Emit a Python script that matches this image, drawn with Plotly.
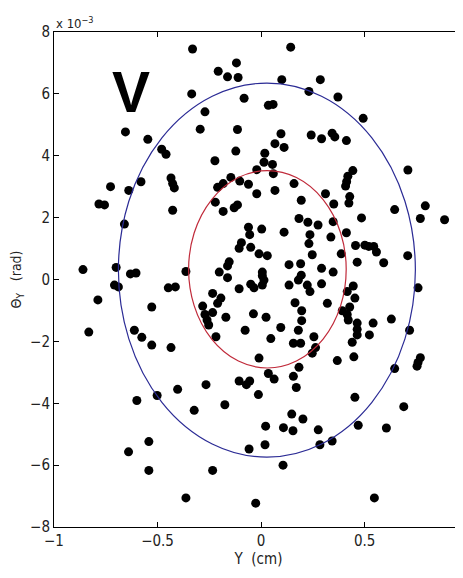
import plotly.graph_objects as go

# Scatter points: Y (cm) and Theta_Y (x 10^-3 rad)
pts_y = [
    -0.331, 0.143, -0.119, -0.207, -0.162, -0.111, 0.100, 0.286, 0.231, -0.335,
    -0.082, 0.371, -0.271, 0.035, 0.058, 0.493, -0.655, -0.294, -0.114, 0.096,
    -0.547, 0.242, 0.292, 0.343, 0.356, 0.412, 0.067, 0.111, -0.480, -0.459,
    -0.122, 0.018, -0.223, 0.014, 0.055, -0.021, 0.059, 0.443, 0.709, 0.419,
    0.413, 0.408, -0.435, -0.427, -0.419, -0.727, -0.580, -0.146, -0.103, -0.061,
    -0.183, -0.210, 0.159, -0.639, -0.021, 0.067, 0.311, 0.428, -0.221, 0.194,
    0.424, 0.351, -0.783, -0.756, -0.427, -0.130, -0.114, -0.183, 0.645, 0.793,
    0.769, 0.886, 0.485, 0.183, 0.226, 0.275, 0.348, -0.660, -0.061, 0.003,
    -0.055, 0.111, 0.236, 0.412, 0.337, -0.095, -0.106, -0.050, 0.231, 0.456,
    0.501, 0.520, 0.544, 0.557, 0.247, -0.010, 0.030, 0.387, 0.708, 0.592,
    -0.154, -0.162, 0.191, 0.135, 0.464, -0.860, -0.700, -0.363, -0.202, -0.631,
    -0.604, 0.006, 0.292, 0.348, 0.194, 0.006, -0.162, 0.014, 0.180, 0.223,
    -0.708, -0.689, -0.448, -0.414, -0.050, -0.034, -0.106, 0.006, 0.135, 0.292,
    0.445, 0.758, 0.236, 0.416, -0.234, -0.788, -0.194, 0.453, -0.282, -0.210,
    0.164, 0.320, -0.528, 0.428, -0.234, -0.271, 0.196, 0.392, 0.416, 0.421,
    -0.037, 0.024, -0.170, -0.261, -0.253, 0.629, 0.464, 0.464, 0.464, 0.541,
    0.523, 0.196, -0.832, -0.612, -0.077, 0.095, 0.180, 0.717, -0.576, -0.218,
    0.047, 0.255, 0.440, -0.528, 0.156, 0.191, -0.435, 0.263, 0.247, -0.010,
    0.448, 0.368, 0.769, 0.758, 0.753, 0.183, 0.645, 0.035, 0.063, 0.156,
    -0.106, -0.055, -0.071, -0.266, 0.170, -0.403, -0.013, -0.502, -0.600, 0.453,
    -0.175, 0.689, -0.323, 0.148, 0.202, 0.022, 0.108, 0.154, 0.469, 0.605,
    0.276, -0.542, 0.019, 0.284, 0.343, -0.640, -0.058, 0.106, -0.542, -0.234,
    -0.363, 0.547, -0.026,
]
pts_theta = [
    7.45, 7.51, 7.00, 6.73, 6.55, 6.53, 6.46, 6.46, 6.08, 6.00,
    5.86, 5.90, 5.42, 5.63, 5.66, 5.21, 4.77, 4.86, 4.85, 4.71,
    4.53, 4.67, 4.55, 4.73, 4.61, 4.49, 4.39, 4.27, 4.21, 4.05,
    4.15, 4.08, 3.84, 3.79, 3.72, 3.55, 3.42, 3.52, 3.54, 3.34,
    3.16, 3.02, 3.28, 3.10, 2.96, 3.00, 3.16, 3.30, 3.18, 3.08,
    3.10, 2.98, 3.10, 2.88, 2.77, 2.88, 2.77, 2.68, 2.50, 2.56,
    2.47, 2.44, 2.44, 2.41, 2.24, 2.32, 2.41, 2.20, 2.26, 2.38,
    1.97, 1.93, 1.99, 1.97, 1.85, 1.76, 1.87, 1.79, 1.69, 1.63,
    1.45, 1.53, 1.45, 1.51, 1.37, 1.19, 1.01, 1.04, 1.16, 1.10,
    1.11, 1.07, 1.07, 0.89, 0.80, 0.83, 0.77, 0.83, 0.77, 0.54,
    0.57, 0.44, 0.51, 0.48, 0.56, 0.32, 0.39, 0.26, 0.24, 0.18,
    0.21, 0.24, 0.36, 0.24, 0.14, 0.12, 0.06, -0.02, -0.02, -0.18,
    -0.18, -0.24, -0.27, -0.24, -0.15, -0.27, -0.30, -0.18, -0.18, -0.14,
    -0.21, -0.27, -0.39, -0.39, -0.45, -0.66, -0.60, -0.60, -0.86, -0.77,
    -0.75, -0.77, -0.89, -0.89, -1.07, -1.13, -1.01, -1.01, -1.13, -1.31,
    -1.11, -1.22, -1.22, -1.31, -1.47, -1.28, -1.41, -1.61, -1.79, -1.41,
    -1.79, -1.33, -1.70, -1.64, -1.64, -1.55, -1.64, -1.64, -1.87, -1.85,
    -1.91, -1.85, -2.03, -2.12, -2.06, -2.06, -2.20, -2.20, -2.38, -2.54,
    -2.50, -2.62, -2.53, -2.68, -2.80, -2.84, -2.88, -3.04, -3.22, -3.13,
    -3.28, -3.28, -3.40, -3.40, -3.49, -3.55, -3.72, -3.75, -3.91, -3.81,
    -4.05, -4.11, -4.23, -4.35, -4.51, -4.74, -4.79, -4.89, -4.71, -4.80,
    -4.86, -5.24, -5.34, -5.34, -5.22, -5.57, -5.48, -6.00, -6.17, -6.17,
    -7.06, -7.06, -7.23,
]

# Ellipses: [x_min, x_max, y_min, y_max]
outer_ellipse = [-0.689, 0.745, -5.74, 6.35]
inner_ellipse = [-0.350, 0.411, -2.86, 3.52]

x_ticks = [-1, -0.5, 0, 0.5]
x_tick_labels = ["−1", "−0.5", "0", "0.5"]
y_ticks = [-8, -6, -4, -2, 0, 2, 4, 6, 8]
y_tick_labels = ["−8", "−6", "−4", "−2", "0", "2", "4", "6", "8"]

NARROW = "Liberation Sans Narrow, DejaVu Sans Condensed, Liberation Sans"

fig = go.Figure()
fig.add_trace(go.Scatter(
    x=pts_y, y=pts_theta, mode="markers",
    marker=dict(color="black", size=9, line=dict(width=0)),
    showlegend=False, hoverinfo="skip",
))

fig.add_shape(type="circle", xref="x", yref="y",
              x0=outer_ellipse[0], x1=outer_ellipse[1],
              y0=outer_ellipse[2], y1=outer_ellipse[3],
              line=dict(color="#2b2b95", width=1.2), layer="above")
fig.add_shape(type="circle", xref="x", yref="y",
              x0=inner_ellipse[0], x1=inner_ellipse[1],
              y0=inner_ellipse[2], y1=inner_ellipse[3],
              line=dict(color="#c02a3a", width=1.2), layer="above")

# "V" label (plot area: 409 px wide from page x=54, 495 px tall from page y=32)
fig.add_annotation(text="<b>V</b>", xref="paper", yref="paper",
                   x=(131 - 54) / 409, y=1 - (92 - 32) / 495,
                   xanchor="center", yanchor="middle",
                   showarrow=False, font=dict(size=57, color="black",
                                              family="Liberation Sans"))
fig.add_annotation(text="x 10<sup>−3</sup>", xref="paper", yref="paper",
                   x=0.0, y=1.0, xanchor="left", yanchor="bottom", yshift=-1,
                   showarrow=False, font=dict(size=13, color="#222",
                                              family=NARROW))

# Page adds an 8px body margin, so the figure is 8px smaller and shifted.
fig.update_layout(
    width=455, height=570,
    margin=dict(l=46, r=0, t=24, b=51),
    paper_bgcolor="white", plot_bgcolor="white",
    font=dict(family=NARROW, size=15, color="#222"),
    xaxis=dict(range=[-1, 0.975], tickvals=x_ticks, ticktext=x_tick_labels,
               showgrid=False, zeroline=False, showline=True,
               linecolor="black", linewidth=1, mirror="ticks",
               ticks="inside", ticklen=5, tickcolor="black",
               title=dict(text="Y  (cm)", standoff=4,
                          font=dict(size=15))),
    yaxis=dict(range=[-8, 8], tickvals=y_ticks, ticktext=y_tick_labels,
               showgrid=False, zeroline=False, showline=True,
               linecolor="black", linewidth=1, mirror=False,
               ticks="inside", ticklen=5, tickcolor="black",
               title=dict(text="Θ<sub>Y</sub>   (rad)", standoff=12,
                          font=dict(size=14))),
)

fig.write_html("out.html")
